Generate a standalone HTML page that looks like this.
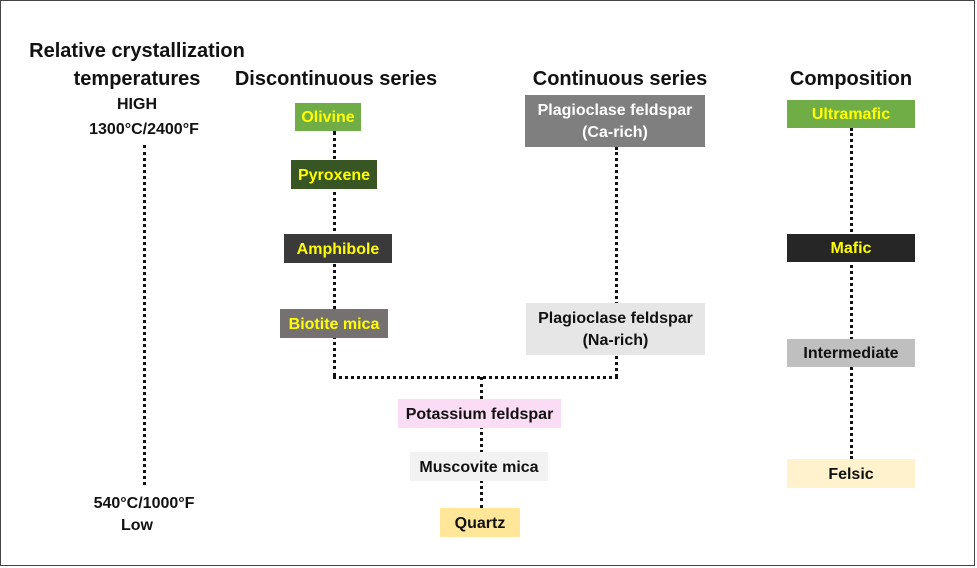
<!DOCTYPE html>
<html><head><meta charset="utf-8"><style>
*{margin:0;padding:0;box-sizing:border-box}
body{width:977px;height:568px;background:#fff;position:relative;overflow:hidden;font-family:"Liberation Sans",Arial,sans-serif;font-weight:bold}
.frame{position:absolute;left:0;top:0;width:975px;height:566px;border:1px solid #444}
.t{position:absolute;white-space:nowrap;text-align:center;transform:translateX(-50%);color:#111}
.h{font-size:20px}
.s{font-size:16px}
.b{position:absolute;display:flex;align-items:center;justify-content:center;text-align:center;font-size:16px;line-height:22px;color:#111;padding-top:2px;white-space:nowrap}
.y{color:#ffff00}
.w{color:#fff}
.v{position:absolute;border-left:3px dotted #111;width:0}
.hz{position:absolute;border-top:3px dotted #111;height:0}
</style></head><body>
<div class="frame"></div>
<div class="t h" style="left:137px;top:40px">Relative crystallization</div>
<div class="t h" style="left:137px;top:68px">temperatures</div>
<div class="t h" style="left:336px;top:68px">Discontinuous series</div>
<div class="t h" style="left:620px;top:68px">Continuous series</div>
<div class="t h" style="left:851px;top:68px">Composition</div>
<div class="t s" style="left:137px;top:96px">HIGH</div>
<div class="t s" style="left:144px;top:121px">1300°C/2400°F</div>
<div class="t s" style="left:144px;top:495px">540°C/1000°F</div>
<div class="t s" style="left:137px;top:517px">Low</div>

<div class="v" style="left:143px;top:145px;height:340px"></div>
<div class="v" style="left:333px;top:131px;height:246px"></div>
<div class="v" style="left:615px;top:147px;height:230px"></div>
<div class="hz" style="left:333px;top:376px;width:285px"></div>
<div class="v" style="left:480px;top:377px;height:131px"></div>
<div class="v" style="left:850px;top:128px;height:331px"></div>

<div class="b y" style="left:295px;top:103px;width:66px;height:28px;background:#70ad47">Olivine</div>
<div class="b y" style="left:291px;top:160px;width:86px;height:29px;background:#375623">Pyroxene</div>
<div class="b y" style="left:284px;top:234px;width:108px;height:29px;background:#3a3a3a">Amphibole</div>
<div class="b y" style="left:280px;top:309px;width:108px;height:29px;background:#767171">Biotite mica</div>
<div class="b w" style="left:525px;top:95px;width:180px;height:52px;background:#7f7f7f">Plagioclase feldspar<br>(Ca-rich)</div>
<div class="b" style="left:526px;top:303px;width:179px;height:52px;background:#e7e6e6">Plagioclase feldspar<br>(Na-rich)</div>
<div class="b" style="left:398px;top:399px;width:163px;height:29px;background:#fadcf5">Potassium feldspar</div>
<div class="b" style="left:410px;top:452px;width:138px;height:29px;background:#f2f2f2">Muscovite mica</div>
<div class="b" style="left:440px;top:508px;width:80px;height:29px;background:#ffe699">Quartz</div>
<div class="b y" style="left:787px;top:100px;width:128px;height:28px;background:#70ad47">Ultramafic</div>
<div class="b y" style="left:787px;top:234px;width:128px;height:28px;background:#262626">Mafic</div>
<div class="b" style="left:787px;top:339px;width:128px;height:28px;background:#bfbfbf">Intermediate</div>
<div class="b" style="left:787px;top:459px;width:128px;height:29px;background:#fff2cc">Felsic</div>
</body></html>
